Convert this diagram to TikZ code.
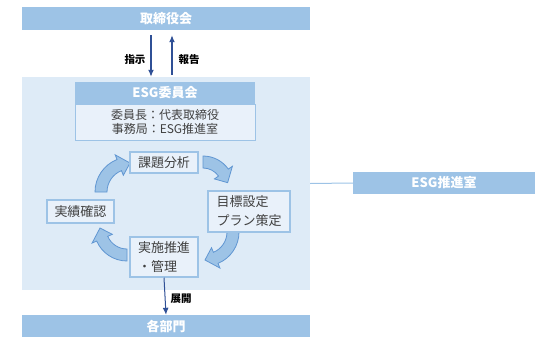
\documentclass[tikz,border=0pt]{standalone}
\usepackage{fontspec}
\setmainfont{Noto Sans CJK JP}
\usepackage{tikz}
\usetikzlibrary{arrows.meta, positioning, calc}
\definecolor{barblue}{RGB}{157,195,230}
\definecolor{paleblue}{RGB}{222,235,247}
\definecolor{boxblue}{RGB}{233,241,250}
\definecolor{edgeblue}{RGB}{96,150,210}
\definecolor{navy}{RGB}{47,80,150}
\definecolor{inkgray}{RGB}{64,64,64}

% curved block arrow: centre, radius, start angle, end angle
\newcommand{\cyclearrow}[4]{%
  \pgfmathsetmacro{\arcout}{#2+6}%
  \pgfmathsetmacro{\arcin}{#2-6}%
  \pgfmathsetmacro{\headout}{#2+11}%
  \pgfmathsetmacro{\headin}{#2-11}%
  \pgfmathsetmacro{\headang}{#4-sign(#4-#3)*11/#2*57.3}%
  \filldraw[cyclearr] ($(#1)+(#3:\arcout pt)$)
    arc[start angle=#3, end angle=\headang, radius=\arcout pt]
    -- ($(#1)+(\headang:\headout pt)$) -- ($(#1)+(#4:#2 pt)$)
    -- ($(#1)+(\headang:\headin pt)$) -- ($(#1)+(\headang:\arcin pt)$)
    arc[start angle=\headang, end angle=#3, radius=\arcin pt] -- cycle;
}

\begin{document}
\begin{tikzpicture}[x=1pt, y=1pt,
  bar/.style={fill=barblue, text=white, inner sep=0pt,
    font=\fontsize{13}{15}\selectfont\bfseries,
    minimum width=288pt, minimum height=23pt},
  region/.style={fill=paleblue, inner sep=0pt,
    minimum width=288pt, minimum height=213pt},
  headbox/.style={fill=barblue, text=white, inner sep=0pt,
    font=\fontsize{13}{15}\selectfont\bfseries,
    minimum width=180pt, minimum height=22pt},
  bodybox/.style={fill=boxblue, draw=barblue, line width=0.8pt, text=inkgray,
    inner sep=0pt, align=center, font=\fontsize{12}{14}\selectfont,
    minimum width=180pt, minimum height=36pt},
  cyclebox/.style={fill=boxblue, draw=barblue, line width=1.5pt, text=inkgray,
    inner sep=0pt, align=left, font=\fontsize{13}{19}\selectfont},
  cyclearr/.style={fill=barblue, draw=edgeblue, line width=0.8pt},
  navyarr/.style={navy, line width=1.3pt, -{Latex[length=7pt, width=6pt]}},
  lbl/.style={text=black, font=\fontsize{10.5}{12}\selectfont\bfseries}]

\useasboundingbox (0,0) rectangle (550,360);

% board and departments
\node[bar] (board) at (166,341.5) {取締役会};
\node[bar, minimum height=22pt] (dept) at (166,34) {各部門};
\node[region] (bg) at (166,176.5) {};

% ESG committee
\node[headbox] (cmtee) at (165,267) {ESG委員会};
\node[bodybox] (members) at (165,238) {委員長：代表取締役\\事務局：ESG推進室};

% instruction / report
\draw[navyarr, shorten <=5pt] ([xshift=-15pt]board.south) -- ([xshift=-15pt]bg.north);
\draw[navyarr, shorten <=2pt, shorten >=5pt] ([xshift=6pt]bg.north) -- ([xshift=6pt]board.south);
\node[lbl] (instr) at (135,300) {指示};
\node[lbl] (report) at (189,300) {報告};

% PDCA cycle
\cyclearrow{203,173}{25}{90}{10}
\cyclearrow{205,128}{28}{0}{-90}
\cyclearrow{127,132}{27}{-90}{-180}
\cyclearrow{130,168}{29}{180}{90}

\node[cyclebox, minimum width=68pt, minimum height=21pt] (analyse) at (164,197.5) {課題分析};
\node[cyclebox, minimum width=82pt, minimum height=41pt] (plan) at (249,148.5) {目標設定\\プラン策定};
\node[cyclebox, minimum width=68pt, minimum height=40pt] (exec) at (164,103) {実施推進\\・管理};
\node[cyclebox, minimum width=67pt, minimum height=23pt] (check) at (80.5,148.5) {実績確認};

% roll-out
\draw[navyarr, line width=1pt] (exec.south) -- (dept.north);
\node[lbl] (rollout) at (181,61) {展開};

% ESG promotion office
\node[bar, minimum width=182pt, minimum height=22pt] (office) at (444,177) {ESG推進室};
\draw[barblue, line width=1pt] (bg.east) -- (office.west);

\end{tikzpicture}
\end{document}
